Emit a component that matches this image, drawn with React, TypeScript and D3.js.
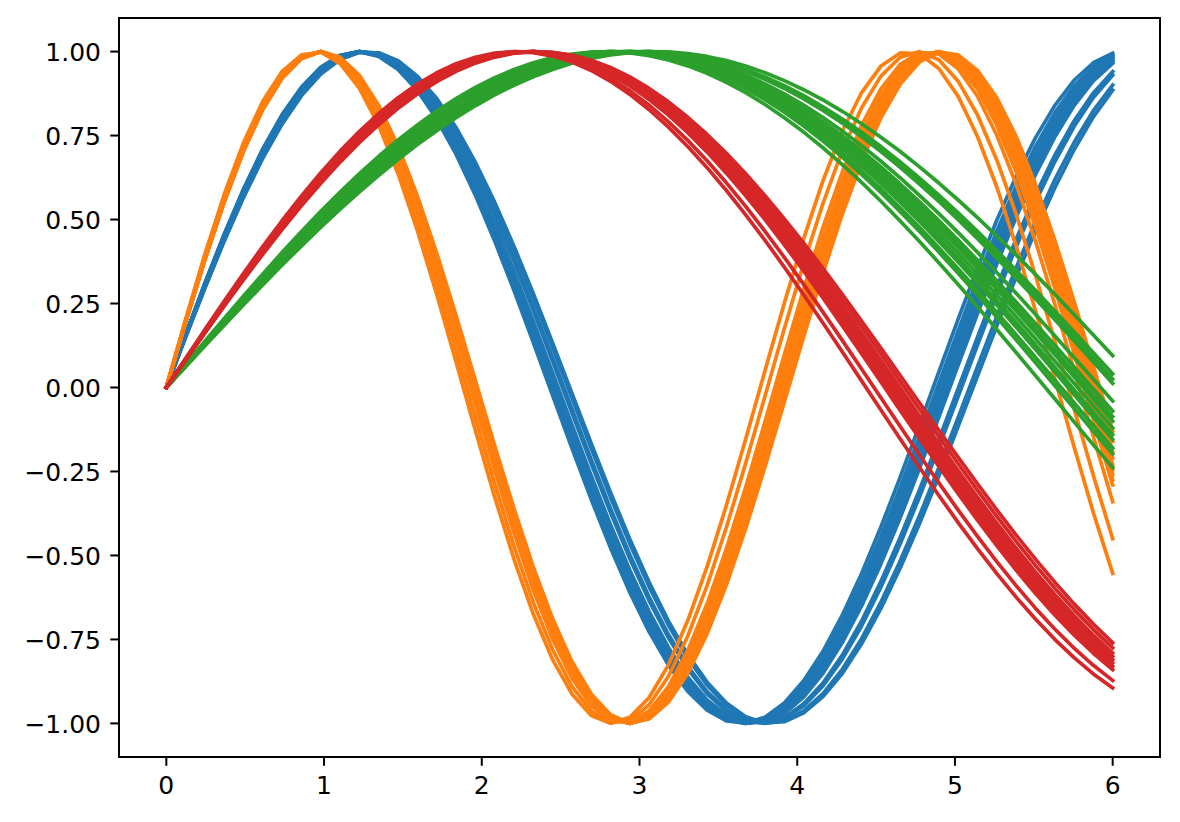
import React from "react";
import * as d3 from "d3";

const blueFreqs = [1.2923, 1.2854, 1.28, 1.2756, 1.2717, 1.2681, 1.2648, 1.251, 1.2463, 1.2338, 1.2284];
const orangeFreqs = [1.5925, 1.5976, 1.6027, 1.6061, 1.6095, 1.612, 1.6146, 1.6172, 1.6198, 1.6286, 1.6486, 1.6685];
const greenFreqs = [0.5078, 0.5169, 0.5194, 0.5216, 0.5303, 0.5353, 0.5381, 0.5403, 0.5437, 0.547, 0.5495, 0.5538, 0.5567, 0.5637];
const redFreqs = [0.6675, 0.6714, 0.6756, 0.6782, 0.681, 0.6839, 0.6869, 0.6898, 0.7002, 0.7082];

const groups = [
  { name: "C0", color: "#1f77b4", freqs: blueFreqs },
  { name: "C1", color: "#ff7f0e", freqs: orangeFreqs },
  { name: "C2", color: "#2ca02c", freqs: greenFreqs },
  { name: "C3", color: "#d62728", freqs: redFreqs },
];

const xStart = 0;
const xEnd = 6;
const sampleCount = 50;
const xTicks = [0, 1, 2, 3, 4, 5, 6];
const yTicks = [-1, -0.75, -0.5, -0.25, 0, 0.25, 0.5, 0.75, 1];

const W = 1180;
const H = 822;
const left = 119;
const right = 1160;
const top = 18;
const bottom = 757;

export default function App() {
  const xs = d3.range(sampleCount).map((i) => xStart + ((xEnd - xStart) * i) / (sampleCount - 1));
  const x = d3.scaleLinear().domain([-0.3, 6.3]).range([left, right]);
  const y = d3.scaleLinear().domain([-1.1, 1.1]).range([bottom, top]);
  const line = d3
    .line<[number, number]>()
    .x((d) => x(d[0]))
    .y((d) => y(d[1]));

  const fmtY = (v: number) => {
    const s = Math.abs(v).toFixed(2);
    return v < 0 ? "\u2212" + s : s;
  };

  const font = "DejaVu Sans, sans-serif";
  const fs = 25;
  const tickLen = 8.75;

  return (
    <svg
      width={W}
      height={H}
      style={{ position: "absolute", left: 0, top: 0, background: "#fff" }}
    >
      <rect x={0} y={0} width={W} height={H} fill="#fff" />
      <defs>
        <clipPath id="plot">
          <rect x={left} y={top} width={right - left} height={bottom - top} />
        </clipPath>
      </defs>
      <g clipPath="url(#plot)">
        {groups.map((g) =>
          g.freqs.map((f, i) => (
            <path
              key={g.name + i}
              d={line(xs.map((xv) => [xv, Math.sin(f * xv)]) as [number, number][]) || ""}
              fill="none"
              stroke={g.color}
              strokeWidth={3.7}
              strokeLinejoin="round"
              strokeLinecap="square"
            />
          ))
        )}
      </g>
      <rect
        x={left}
        y={top}
        width={right - left}
        height={bottom - top}
        fill="none"
        stroke="#000"
        strokeWidth={2}
      />
      {xTicks.map((t) => (
        <g key={"x" + t}>
          <line x1={x(t)} x2={x(t)} y1={bottom} y2={bottom + tickLen} stroke="#000" strokeWidth={2} />
          <text
            x={x(t)}
            y={794}
            textAnchor="middle"
            fontFamily={font}
            fontSize={fs}
            fill="#000"
          >
            {String(t)}
          </text>
        </g>
      ))}
      {yTicks.map((t) => (
        <g key={"y" + t}>
          <line x1={left - tickLen} x2={left} y1={y(t)} y2={y(t)} stroke="#000" strokeWidth={2} />
          <text
            x={101}
            y={y(t) + 9.1}
            textAnchor="end"
            fontFamily={font}
            fontSize={fs}
            fill="#000"
          >
            {fmtY(t)}
          </text>
        </g>
      ))}
    </svg>
  );
}
